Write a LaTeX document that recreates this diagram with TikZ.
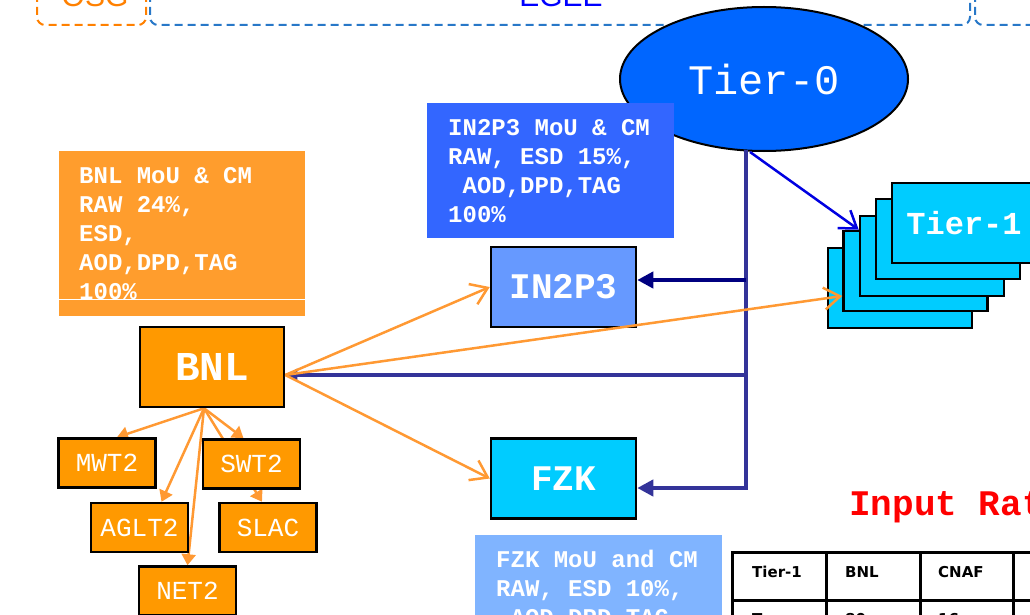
\documentclass[tikz,border=0pt]{standalone}
\usepackage{fontspec}
\setmainfont{Liberation Sans}
\setmonofont{Liberation Mono}
\newfontfamily\tablefont{DejaVu Sans}
\usetikzlibrary{shapes.geometric,arrows.meta,positioning}

\definecolor{tierzero}{RGB}{0,102,255}
\definecolor{bnlorange}{RGB}{255,153,0}
\definecolor{infoorange}{RGB}{255,157,45}
\definecolor{infoblue}{RGB}{51,102,255}
\definecolor{inpblue}{RGB}{102,153,255}
\definecolor{fzkcyan}{RGB}{0,204,255}
\definecolor{infolight}{RGB}{128,180,255}
\definecolor{trunkblue}{RGB}{51,51,153}
\definecolor{feednavy}{RGB}{0,0,128}
\definecolor{flowblue}{RGB}{0,0,225}
\definecolor{flowor}{RGB}{255,153,51}
\definecolor{osgorange}{RGB}{255,128,0}
\definecolor{egeeframe}{RGB}{40,120,200}

% typewriter at a given size
\newcommand\courier[2]{\ttfamily\fontsize{#1}{#2}\selectfont}
% one full character cell per space (align=left narrows them)
\newcommand\wordcell{\spaceskip=0.6em\relax}

\pgfdeclarelayer{background}
\pgfsetlayers{background,main}

\begin{document}
\begin{tikzpicture}[x=1pt,y=-1pt,
    sitebox/.style={draw=black,line width=2.5pt,text=white,inner sep=0,
      minimum width=145,minimum height=80,
      font=\bfseries\courier{36}{36}},
    smallsite/.style={draw=black,line width=2.5pt,fill=bnlorange,text=white,inner sep=0,
      minimum width=97,minimum height=49,
      font=\courier{26}{26}},
    infobox/.style={anchor=north west,text=white,inner xsep=21pt,inner ysep=0,
      align=left,minimum height=135,
      font=\bfseries\courier{24}{29}},
    tierone/.style={draw=black,line width=2.5pt,fill=fzkcyan,inner sep=0,
      minimum width=144,minimum height=80},
    frame/.style={dashed,dash pattern=on 8pt off 5pt,line width=2pt,rounded corners=8pt},
    trunk/.style={trunkblue,line width=4.5pt},
    down/.style={flowor,line width=2.5pt,-{Triangle[length=11pt,width=14pt]}},
    flow/.style={flowor,line width=2.5pt,-{Straight Barb[length=16pt,width=22pt]}},
    cell/.style={anchor=base west,inner sep=0,font=\tablefont\bfseries\fontsize{15}{15}\selectfont}
  ]

  \useasboundingbox (0,0) rectangle (1030,615);
  \clip (0,0) rectangle (1030,615);

  % grid frames along the top edge
  \draw[frame,osgorange] (37,-40) rectangle (146,25);
  \draw[frame,egeeframe] (150,-40) rectangle (970,25);
  \draw[frame,egeeframe] (975,-40) rectangle (1100,25);
  \node[anchor=base,inner sep=0,text=osgorange,font=\fontsize{30}{30}\selectfont] (osg) at (95,7) {OSG};
  \node[anchor=base,inner sep=0,text=blue,font=\fontsize{30}{30}\selectfont] (egee) at (561,7) {EGEE};

  % Tier-0 and the Tier-1 stack
  \node[ellipse,draw=black,line width=2pt,fill=tierzero,text=white,inner sep=0,
    minimum width=288,minimum height=144,font=\courier{42}{42}] (tier0) at (764,79) {Tier-0};

  \node[tierone] (t1a) at (900,288) {};
  \node[tierone] (t1b) at (915.5,271) {};
  \node[tierone] (t1c) at (932,256) {};
  \node[tierone] (t1d) at (948,239) {};
  \node[tierone,text=white,font=\bfseries\courier{32}{32}] (t1e) at (964,223) {Tier-1};

  % MoU boxes
  \node[infobox,fill=infoblue,minimum width=247,text width=205pt] (in2p3info) at (427,103)
    {\wordcell IN2P3 MoU \& CM\\RAW, ESD 15\%,\\\hphantom{A}AOD,DPD,TAG\\100\%};
  \node[infobox,fill=infoorange,inner xsep=20pt,minimum width=246,minimum height=165,text width=206pt] (bnlinfo) at (59,151)
    {\wordcell BNL MoU \& CM\\RAW 24\%,\\ESD,\\AOD,DPD,TAG\\100\%};
  \draw[white,line width=1pt] (bnlinfo.west |- 0,299) -- (bnlinfo.east |- 0,299);
  \node[infobox,fill=infolight,minimum width=246,text width=205pt] (fzkinfo) at (475,535)
    {\wordcell FZK MoU and CM\\RAW, ESD 10\%,\\\hphantom{A}AOD,DPD,TAG\\100\%};

  % Tier-1 sites
  \node[sitebox,fill=inpblue] (in2p3) at (563.5,287) {IN2P3};
  \node[sitebox,fill=bnlorange,minimum width=144,font=\bfseries\courier{41}{41}] (bnl) at (212,367) {BNL};
  \node[sitebox,fill=fzkcyan] (fzk) at (563.5,478.5) {FZK};

  % Tier-2 sites under BNL
  \node[smallsite] (mwt2) at (107,463) {MWT2};
  \node[smallsite] (swt2) at (251.5,464) {SWT2};
  \node[smallsite] (aglt2) at (139.5,527.5) {AGLT2};
  \node[smallsite] (slac) at (268,527.5) {SLAC};
  \node[smallsite] (net2) at (187.5,591) {NET2};

  \coordinate (bnlfoot) at ([xshift=-8pt]bnl.south);
  \begin{pgfonlayer}{background}
    \draw[down] (bnlfoot) -- ([xshift=10pt]mwt2.north);
    \draw[down] (bnlfoot) -- ([xshift=22pt]aglt2.north);
    \draw[down] (bnlfoot) -- (net2.north);
    \draw[down] (bnlfoot) -- ([xshift=-8pt]swt2.north);
    \draw[down] (bnlfoot) -- ([xshift=-6pt]slac.north);
  \end{pgfonlayer}

  % distribution from Tier-0
  \coordinate (trunktop) at (746,150);
  \coordinate (trunkbot) at (746,488);
  \coordinate (jin2p3) at (746,280);
  \coordinate (jbnl) at (746,375);
  \draw[trunk,-{Triangle[length=16pt,width=16pt]}] (trunktop) -- (trunkbot) -- (trunkbot -| fzk.east);
  \draw[trunk,feednavy,-{Triangle[length=16pt,width=16pt]}] (jin2p3) -- (jin2p3 -| in2p3.east);
  \draw[trunk,-{Triangle[length=12pt,width=12pt]}] (jbnl) -- (jbnl -| bnl.east);

  \coordinate (t0foot) at (750,152);
  \draw[flowblue,line width=2.5pt,-{Straight Barb[length=16pt,width=22pt]}] (t0foot) -- ([yshift=-15pt]t1c.north west);

  % exports from BNL
  \coordinate (bnlport) at ([yshift=-8pt]bnl.east);
  \draw[flow] (bnlport) -- (in2p3.west);
  \draw[flow] (bnlport) -- (fzk.west);
  \draw[flow] (bnlport) -- ([yshift=-25pt]t1b.west);

  % input rates table
  \node[anchor=base west,inner sep=0,text=red,font=\bfseries\courier{36}{36}] (ratetitle) at (849,515) {Input Rates};
  \draw[line width=3pt] (732,620) -- (732,552) -- (1040,552);
  \draw[line width=3pt] (732,600) -- (1040,600);
  \foreach \cx in {826,920,1013}
    \draw[line width=3pt] (\cx,552) -- (\cx,620);
  \node[cell] (hdtier) at (752,577) {Tier-1};
  \node[cell] (hdbnl) at (845,577) {BNL};
  \node[cell] (hdcnaf) at (938,577) {CNAF};
  \node[cell] (rwtape) at (752,624) {Tape};
  \node[cell] (rwbnl) at (845,624) {80};
  \node[cell] (rwcnaf) at (938,624) {16};

\end{tikzpicture}
\end{document}
